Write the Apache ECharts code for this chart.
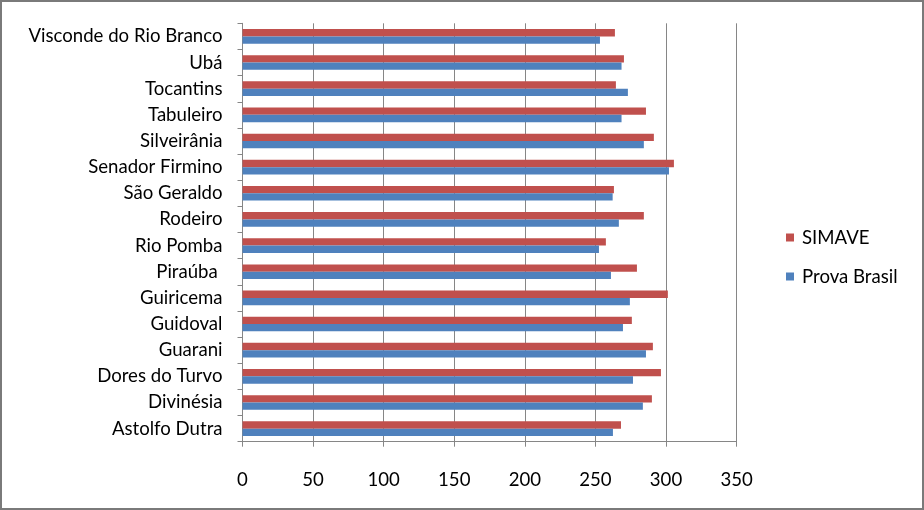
<!DOCTYPE html>
<html><head><meta charset="utf-8">
<script src="https://cdn.jsdelivr.net/npm/echarts@6/dist/echarts.min.js"></script>
<style>html,body{margin:0;padding:0;background:#fff}#c{width:924px;height:510px}</style>
</head><body><div id="c"></div>
<script>
const categories = ["Astolfo Dutra","Divinésia","Dores do Turvo","Guarani","Guidoval","Guiricema","Piraúba ","Rio Pomba","Rodeiro","São Geraldo","Senador Firmino","Silveirânia","Tabuleiro","Tocantins","Ubá","Visconde do Rio Branco"];
const provaBrasil = [262.4,283.6,276.6,285.8,269.5,274.4,261.0,252.5,266.6,262.2,302.1,284.3,268.5,273.0,268.5,253.2];
const simave = [268.1,290.0,296.4,290.7,275.8,301.3,279.4,257.4,284.3,263.1,305.6,291.4,285.8,264.5,270.2,263.8];
const xTicks = [0,50,100,150,200,250,300,350];

const font = "Lato";
const fs = 18.6;
const chart = echarts.init(document.getElementById('c'));
chart.setOption({
  animation:false,
  textStyle:{fontFamily:font},
  graphic:[{type:'rect',shape:{x:1,y:1,width:922,height:508},style:{fill:'none',stroke:'#7a7a7a',lineWidth:2},silent:true}],
  grid:{left:242.5,right:187.4,top:23.3,bottom:68.3,containLabel:false},
  legend:{orient:'vertical',left:781,top:223,itemWidth:8,itemHeight:8,itemGap:20,icon:'rect',
    data:['SIMAVE','Prova Brasil'],textStyle:{fontSize:fs,color:'#000',fontFamily:font,padding:[0,0,0,3]}},
  xAxis:{type:'value',min:xTicks[0],max:xTicks[xTicks.length-1],interval:50,
    axisLine:{show:true,lineStyle:{color:'#868686'}},
    axisTick:{show:true,length:5,lineStyle:{color:'#868686'}},
    splitLine:{show:true,lineStyle:{color:'#868686',width:1}},
    axisLabel:{margin:29,fontSize:fs,color:'#000',fontFamily:font}},
  yAxis:{type:'category',data:categories,
    axisLine:{show:true,lineStyle:{color:'#868686'}},
    axisTick:{show:true,length:5,lineStyle:{color:'#868686'}},
    axisLabel:{margin:20,fontSize:fs,color:'#000',fontFamily:font}},
  series:[
    {name:'SIMAVE',type:'bar',data:simave,itemStyle:{color:'#c0504d'},barGap:'0%',barCategoryGap:'44%'},
    {name:'Prova Brasil',type:'bar',data:provaBrasil,itemStyle:{color:'#4f81bd'},barGap:'0%',barCategoryGap:'44%'}
  ]
});
</script></body></html>
